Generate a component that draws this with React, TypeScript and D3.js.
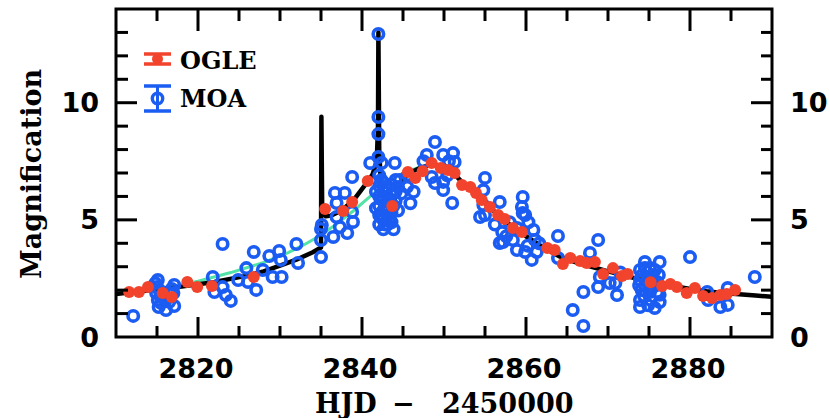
import React from "react";
import * as d3 from "d3";

// ---------- data ----------
const xTicksMajor = [2820, 2840, 2860, 2880];
const yTicksMajor = [0, 5, 10];

const ogleX = [2811.6, 2812.8, 2813.9, 2815.7, 2816.8, 2818.7, 2819.9, 2821.7, 2826.8, 2835.5, 2837.7, 2838.8, 2840.7, 2843.7, 2845.6, 2846.5, 2847.4, 2848.5, 2849.6, 2850.5, 2851.3, 2852.2, 2853.2, 2853.9, 2854.6, 2855.6, 2856.6, 2857.4, 2858.4, 2859.5, 2862.6, 2863.5, 2864.5, 2865.4, 2866.6, 2867.4, 2868.4, 2869.4, 2870.6, 2871.7, 2872.4, 2875.2, 2876.6, 2877.6, 2878.4, 2879.6, 2880.6, 2881.6, 2882.7, 2883.7, 2884.5, 2885.5];
const ogleY = [1.92, 1.92, 2.13, 1.88, 1.71, 2.35, 2.13, 2.18, 2.56, 5.46, 5.38, 5.76, 6.66, 5.59, 7.04, 6.79, 7.08, 7.43, 7.21, 7.13, 7.0, 6.49, 6.4, 6.15, 5.85, 5.55, 5.21, 5.04, 4.65, 4.48, 3.8, 3.71, 3.12, 3.37, 3.24, 3.16, 3.2, 2.69, 2.94, 2.6, 2.69, 2.34, 2.18, 2.26, 2.13, 1.88, 2.09, 1.75, 1.66, 1.79, 1.84, 2.01];

const moaX = [2812.1, 2815.1, 2815.0, 2814.9, 2815.1, 2815.2, 2816.1, 2815.9, 2817.1, 2817.0, 2817.1, 2815.3, 2815.5, 2814.8, 2816.5, 2816.8,
  2821.8, 2822.0, 2823.0, 2823.0, 2823.4, 2824.0, 2824.9, 2825.9, 2826.1, 2826.8, 2827.1, 2827.9, 2828.7, 2829.1, 2829.9, 2830.1, 2830.2, 2832.0, 2832.2, 2835.0, 2835.0, 2835.0, 2835.1, 2836.7, 2836.9, 2837.9, 2836.9, 2837.3, 2836.5, 2838.8, 2838.9, 2838.2, 2838.8, 2841.0, 2842.0, 2842.0, 2842.0, 2842.0, 2842.4, 2844.0,
  2842.1, 2842.1, 2842.1, 2842.1, 2842.1, 2842.1, 2842.6, 2842.6, 2842.6, 2842.6, 2842.6, 2842.6, 2843.1, 2843.1, 2843.1, 2843.1, 2843.1, 2843.6, 2843.6, 2843.6, 2843.6, 2844.1, 2844.1, 2844.1, 2841.7, 2841.7,
  2842.35, 2842.35, 2842.35, 2842.85, 2842.85, 2842.85, 2843.35, 2843.35, 2843.85, 2843.85, 2844.4, 2844.4,
  2844.6, 2844.8, 2846.3, 2845.6, 2845.5, 2845.9,
  2848.9, 2847.9, 2849.9, 2851.1, 2851.3, 2848.5, 2848.9, 2849.9, 2851.0, 2849.9, 2850.4, 2847.5, 2850.6,
  2854.4, 2854.8, 2855.0, 2854.8, 2855.0, 2856.8, 2857.1, 2857.2, 2858.4, 2859.6, 2859.5, 2859.6, 2858.9, 2859.9, 2860.9, 2861.1, 2861.3, 2860.7, 2858.9, 2859.9, 2856.8,
  2857.6, 2858.0, 2860.3, 2860.2, 2856.2, 2861.6,
  2863.9, 2863.9, 2868.8, 2867.8, 2867.0, 2868.8, 2870.2, 2870.9, 2871.1, 2869.0, 2865.7, 2867.0, 2871.5,
  2873.9, 2874.5, 2875.1, 2875.7, 2873.9, 2874.8, 2876.0, 2874.1, 2875.1, 2876.0, 2873.9, 2875.2, 2876.3, 2873.9, 2875.7, 2874.5, 2876.3, 2874.5,
  2874.2, 2875.4, 2876.2, 2874.4, 2875.5, 2876.3, 2874.9, 2873.8,
  2880.0, 2882.1, 2882.2, 2883.7, 2884.6, 2884.6, 2887.9];
const moaY = [0.9, 2.43, 2.13, 1.88, 1.58, 1.28, 1.15, 1.66, 2.22, 1.88, 1.32, 2.0, 1.45, 2.3, 1.5, 2.05,
  2.56, 1.92, 3.97, 2.13, 1.79, 1.54, 2.43, 2.94, 2.35, 3.63, 2.01, 2.86, 3.46, 2.56, 3.67, 3.29, 2.56, 3.97, 3.16, 3.41, 4.14, 4.61, 4.78, 6.15, 5.72, 6.15, 5.12, 4.69, 4.27, 6.83, 4.91, 4.44, 5.34, 7.43, 12.93, 9.39, 8.66, 7.68, 7.43, 7.43,
  6.9, 6.45, 6.0, 5.6, 5.2, 4.8, 6.6, 6.2, 5.8, 5.4, 5.0, 4.6, 6.4, 6.0, 5.6, 5.2, 4.8, 6.5, 6.1, 5.3, 4.9, 6.7, 6.2, 5.8, 6.2, 5.5,
  6.7, 5.9, 5.1, 6.4, 5.6, 4.8, 5.8, 5.0, 5.6, 4.6, 6.4, 5.4,
  6.7, 6.13, 6.2, 6.91, 6.41, 5.71,
  8.32, 7.77, 7.77, 7.85, 7.47, 6.83, 6.57, 6.27, 5.72, 6.62, 6.9, 7.5, 7.5,
  5.12, 5.63, 6.79, 6.27, 5.21, 5.76, 4.48, 4.05, 4.14, 5.98, 5.55, 5.29, 4.65, 3.63, 4.57, 4.14, 3.63, 3.29, 3.71, 5.21, 4.01,
  4.3, 4.9, 4.9, 3.9, 4.8, 4.0,
  4.31, 3.37, 4.14, 3.59, 1.92, 2.13, 2.3, 2.3, 1.79, 2.56, 1.15, 0.47, 2.75,
  2.86, 2.94, 2.94, 2.86, 2.43, 2.43, 2.35, 2.01, 1.92, 1.92, 1.58, 1.58, 1.49, 1.28, 1.24, 3.2, 3.2, 2.2,
  2.65, 2.65, 2.65, 1.75, 2.15, 1.8, 1.35, 2.2,
  3.41, 1.92, 1.58, 1.28, 2.09, 1.37, 2.56];

const modelX = [2810, 2814, 2818, 2822, 2826, 2828, 2830, 2832, 2834, 2835, 2835.05, 2835.15, 2835.6, 2836.2, 2837.5, 2839, 2840.5, 2841.3, 2841.8, 2841.95, 2842.0, 2842.1, 2842.3, 2843.0, 2843.7, 2844.5, 2845.5, 2847, 2848.5, 2849.5, 2851, 2852.5, 2854, 2856, 2858, 2860, 2862, 2864, 2866, 2868, 2870, 2872, 2874, 2876, 2878, 2880, 2882, 2884, 2886, 2888, 2890];
const modelY = [1.84, 1.99, 2.15, 2.35, 2.62, 2.8, 3.05, 3.3, 3.62, 3.82, 9.4, 5.3, 5.15, 5.18, 5.4, 5.85, 6.55, 6.95, 7.5, 9.0, 13.0, 8.0, 6.5, 5.85, 5.65, 6.3, 6.95, 7.2, 7.38, 7.32, 7.05, 6.5, 6.05, 5.4, 4.8, 4.3, 3.85, 3.45, 3.2, 3.0, 2.8, 2.62, 2.45, 2.3, 2.18, 2.05, 1.95, 1.88, 1.82, 1.77, 1.72];

const altX = [2810, 2816, 2820, 2824, 2828, 2831, 2833, 2835, 2837, 2839, 2841, 2843, 2845, 2847, 2849];
const altY = [1.9, 2.1, 2.38, 2.75, 3.18, 3.6, 3.95, 4.35, 4.85, 5.4, 6.0, 6.6, 7.0, 7.25, 7.35];

const legendLabels = ["OGLE", "MOA"];

// ---------- styles ----------
const RED = "#f2432c";
const BLUE = "#1b5cf2";
const CYAN = "#52e3a6";
const tickFont = "'DejaVu Sans', sans-serif";
const titleFont = "'DejaVu Serif', serif";

export default function App() {
  const W = 830, H = 418;
  const L = 116, R = 772, T = 9, B = 337;
  const x = d3.scaleLinear().domain([2810, 2890]).range([L, R]);
  const y = d3.scaleLinear().domain([0, 14]).range([B, T]);

  const line = d3.line<[number, number]>().x(d => x(d[0])).y(d => y(d[1]));
  const modelPts = modelX.map((v, i) => [v, modelY[i]] as [number, number]);
  const altPts = altX.map((v, i) => [v, altY[i]] as [number, number]);

  const xMinor = d3.range(2815, 2890, 5).filter(v => !xTicksMajor.includes(v));
  const yMinor = d3.range(1, 14, 1).filter(v => !yTicksMajor.includes(v));

  const tickW = 3;

  return (
    <div style={{ position: "absolute", left: 0, top: 0, width: W, height: H, background: "#fff" }}>
      <svg width={W} height={H} style={{ display: "block" }}>
        <rect x={0} y={0} width={W} height={H} fill="#fff" />
        <defs>
          <clipPath id="plot">
            <rect x={L} y={T} width={R - L} height={B - T} />
          </clipPath>
        </defs>

        <g clipPath="url(#plot)">
          <path d={line(altPts) || ""} fill="none" stroke={CYAN} strokeWidth={3} />
          <path d={line(modelPts) || ""} fill="none" stroke="#000" strokeWidth={4.5} strokeLinejoin="round" />
          {moaX.map((v, i) => (
            <circle key={"m" + i} cx={x(v)} cy={y(moaY[i])} r={5.2} fill="none" stroke={BLUE} strokeWidth={3.6} />
          ))}
          {ogleX.map((v, i) => (
            <circle key={"o" + i} cx={x(v)} cy={y(ogleY[i])} r={6} fill={RED} />
          ))}
        </g>

        <g stroke="#000" strokeWidth={tickW}>
          {xTicksMajor.map(v => (
            <g key={"xM" + v}>
              <line x1={x(v)} x2={x(v)} y1={B} y2={B - 20} />
              <line x1={x(v)} x2={x(v)} y1={T} y2={T + 22} />
            </g>
          ))}
          {xMinor.map(v => (
            <g key={"xm" + v}>
              <line x1={x(v)} x2={x(v)} y1={B} y2={B - 11} />
              <line x1={x(v)} x2={x(v)} y1={T} y2={T + 12} />
            </g>
          ))}
          {yTicksMajor.filter(v => v > 0).map(v => (
            <g key={"yM" + v}>
              <line x1={L} x2={L + 21} y1={y(v)} y2={y(v)} />
              <line x1={R} x2={R - 21} y1={y(v)} y2={y(v)} />
            </g>
          ))}
          {yMinor.map(v => (
            <g key={"ym" + v}>
              <line x1={L} x2={L + 12} y1={y(v)} y2={y(v)} />
              <line x1={R} x2={R - 11} y1={y(v)} y2={y(v)} />
            </g>
          ))}
        </g>

        <rect x={L} y={T} width={R - L} height={B - T} fill="none" stroke="#000" strokeWidth={3} />

        <g fontFamily={tickFont} fontWeight="bold" fontSize={27} fill="#000">
          {xTicksMajor.map(v => (
            <text key={"xl" + v} x={x(v) - 2} y={378} textAnchor="middle">{v}</text>
          ))}
          {yTicksMajor.map(v => (
            <text key={"yl" + v} x={99} y={y(v)} textAnchor="end" dominantBaseline="central">{v}</text>
          ))}
          {yTicksMajor.map(v => (
            <text key={"yr" + v} x={790} y={y(v)} textAnchor="start" dominantBaseline="central">{v}</text>
          ))}
        </g>

        <text fontFamily={titleFont} fontWeight="bold" fontSize={27} y={413} fill="#000">
          <tspan x={315}>HJD</tspan>
          <tspan x={392}>−</tspan>
          <tspan x={442}>2450000</tspan>
        </text>
        <text fontFamily={titleFont} fontWeight="bold" fontSize={27} fill="#000"
          transform={`translate(41,174) rotate(-90)`} textAnchor="middle">Magnification</text>

        <g>
          <line x1={144} x2={171} y1={54} y2={54} stroke={RED} strokeWidth={3.5} />
          <line x1={144} x2={171} y1={64} y2={64} stroke={RED} strokeWidth={3.5} />
          <line x1={157.5} x2={157.5} y1={54} y2={64} stroke={RED} strokeWidth={3} />
          <circle cx={157.5} cy={59} r={5.5} fill={RED} />
          <line x1={144} x2={171} y1={86} y2={86} stroke={BLUE} strokeWidth={3.5} />
          <line x1={144} x2={171} y1={111} y2={111} stroke={BLUE} strokeWidth={3.5} />
          <line x1={157.5} x2={157.5} y1={86} y2={111} stroke={BLUE} strokeWidth={3} />
          <circle cx={157.5} cy={98.5} r={5.2} fill="none" stroke={BLUE} strokeWidth={3.4} />
          <text x={180} y={60} fontFamily={titleFont} fontWeight="bold" fontSize={24} dominantBaseline="central" fill="#000">{legendLabels[0]}</text>
          <text x={180} y={98} fontFamily={titleFont} fontWeight="bold" fontSize={24} dominantBaseline="central" fill="#000">{legendLabels[1]}</text>
        </g>
      </svg>
    </div>
  );
}
